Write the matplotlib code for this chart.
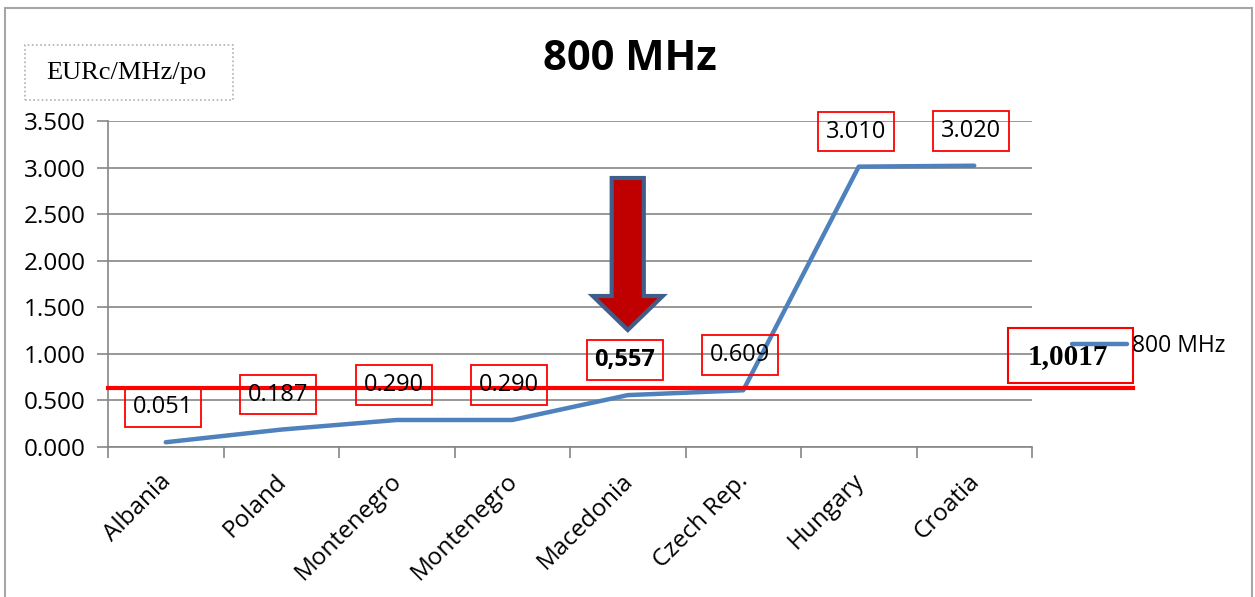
import matplotlib
matplotlib.use("Agg")
import matplotlib.pyplot as plt
from matplotlib.patches import Rectangle, Polygon
from matplotlib.lines import Line2D
import matplotlib.transforms as mtransforms

# ---- data ----
categories = ["Albania", "Poland", "Montenegro", "Montenegro", "Macedonia",
              "Czech Rep.", "Hungary", "Croatia"]
values = [0.051, 0.187, 0.290, 0.290, 0.557, 0.609, 3.010, 3.020]
value_labels = ["0.051", "0.187", "0.290", "0.290", "0,557", "0.609", "3.010", "3.020"]
label_bold = [False, False, False, False, True, False, False, False]
series_name = "800 MHz"
reference_value = 0.633
reference_label = "1,0017"
yticks = [0.0, 0.5, 1.0, 1.5, 2.0, 2.5, 3.0, 3.5]
ytick_labels = ["0.000", "0.500", "1.000", "1.500", "2.000", "2.500", "3.000", "3.500"]
title = "800 MHz"
unit_label = "EURc/MHz/po"

W, H = 1255, 597
fig = plt.figure(figsize=(W / 100, H / 100), dpi=100)
fig.patch.set_facecolor("white")

def fx(px):
    return px / W

def fy(py):
    return 1 - py / H

# outer border
fig.add_artist(Rectangle((fx(5), fy(700)), fx(1252) - fx(5), fy(8) - fy(700),
                         transform=fig.transFigure, fill=False,
                         edgecolor="#a6a6a6", linewidth=1.5))

ax = fig.add_axes([fx(108), fy(447), fx(1032) - fx(108), fy(121) - fy(447)])
n = len(categories)
x = list(range(n))
ax.set_xlim(-0.5, n - 0.5)
ax.set_ylim(0, 3.5)

grid_c = "#868686"
ax.set_yticks(yticks)
ax.set_yticklabels(ytick_labels, fontsize=17.5, family="Open Sans")
ax.yaxis.grid(True, color=grid_c, linewidth=1.2)
ax.set_axisbelow(True)
ax.tick_params(axis="y", length=8, width=1.2, color=grid_c, pad=8)

ax.set_xticks(x)
ax.set_xticklabels(categories, rotation=45, ha="right", va="top",
                   rotation_mode="anchor", fontsize=17.5, family="Open Sans")
ax.tick_params(axis="x", which="major", length=0, pad=16)
shift = mtransforms.ScaledTranslation(-7 / 100, 0, fig.dpi_scale_trans)
for lbl in ax.get_xticklabels():
    lbl.set_transform(lbl.get_transform() + shift)
ax.set_xticks([i - 0.5 for i in range(n + 1)], minor=True)
ax.tick_params(axis="x", which="minor", length=8, width=1.2, color=grid_c)

for s in ["top", "right"]:
    ax.spines[s].set_visible(False)
for s in ["left", "bottom"]:
    ax.spines[s].set_color(grid_c)
    ax.spines[s].set_linewidth(1.2)

# series line
line, = ax.plot(x, values, color="#4F81BD", linewidth=3.2, solid_capstyle="round",
                label=series_name, zorder=3)

# reference red line extending beyond plot to the right
trans_ref = mtransforms.blended_transform_factory(fig.transFigure, ax.transData)
ax.add_line(Line2D([fx(108), fx(1133)], [reference_value, reference_value],
                   transform=trans_ref, color="#FF0000", linewidth=3,
                   clip_on=False, zorder=4))

# value labels in red boxes
for xi, v, lab, b in zip(x, values, value_labels, label_bold):
    ax.annotate(lab, (xi, v), xytext=(-3, 35), textcoords="offset pixels",
                ha="center", va="center", fontsize=17,
                fontweight="bold" if b else "normal", family="Open Sans",
                bbox=dict(boxstyle="square,pad=0.33", facecolor="none",
                          edgecolor="#FF0000", linewidth=1.3),
                zorder=5, annotation_clip=False)

# arrow pointing to Macedonia
ai = 4
shaft_hw, head_hw = 0.139, 0.303
y_top, y_head, y_tip = 2.888, 1.621, 1.256
arrow_pts = [(ai - shaft_hw, y_top), (ai + shaft_hw, y_top), (ai + shaft_hw, y_head),
             (ai + head_hw, y_head), (ai, y_tip), (ai - head_hw, y_head),
             (ai - shaft_hw, y_head)]
ax.add_patch(Polygon(arrow_pts, closed=True, facecolor="#C00000",
                     edgecolor="#3F5F8A", linewidth=3, joinstyle="miter", zorder=6))

# title
fig.text(fx(630), fy(60), title, ha="center", va="center", fontsize=30,
         fontweight="bold", family="Open Sans")

# unit box
fig.add_artist(Rectangle((fx(25), fy(100)), fx(233) - fx(25), fy(45) - fy(100),
                         transform=fig.transFigure, fill=False, edgecolor="#b0b0b0",
                         linewidth=1.2, linestyle=(0, (1, 1.5))))
fig.text(fx(46), fy(73), unit_label, ha="left", va="center", fontsize=19,
         family="Liberation Serif")

# reference value box
fig.add_artist(Rectangle((fx(1008), fy(383)), fx(1133) - fx(1008), fy(328) - fy(383),
                         transform=fig.transFigure, fill=False, edgecolor="#FF0000",
                         linewidth=1.5))
fig.text(fx(1068), fy(357), reference_label, ha="center", va="center", fontsize=21,
         fontweight="bold", family="Liberation Serif")

# legend
leg = fig.legend(handles=[line], loc="center left", bbox_to_anchor=(fx(1072), fy(346)),
                 frameon=False, prop={"family": "Open Sans", "size": 16.5},
                 handlelength=2.4, handletextpad=0.2, borderpad=0, borderaxespad=0)

fig.savefig("out.png", dpi=100, facecolor="white")
